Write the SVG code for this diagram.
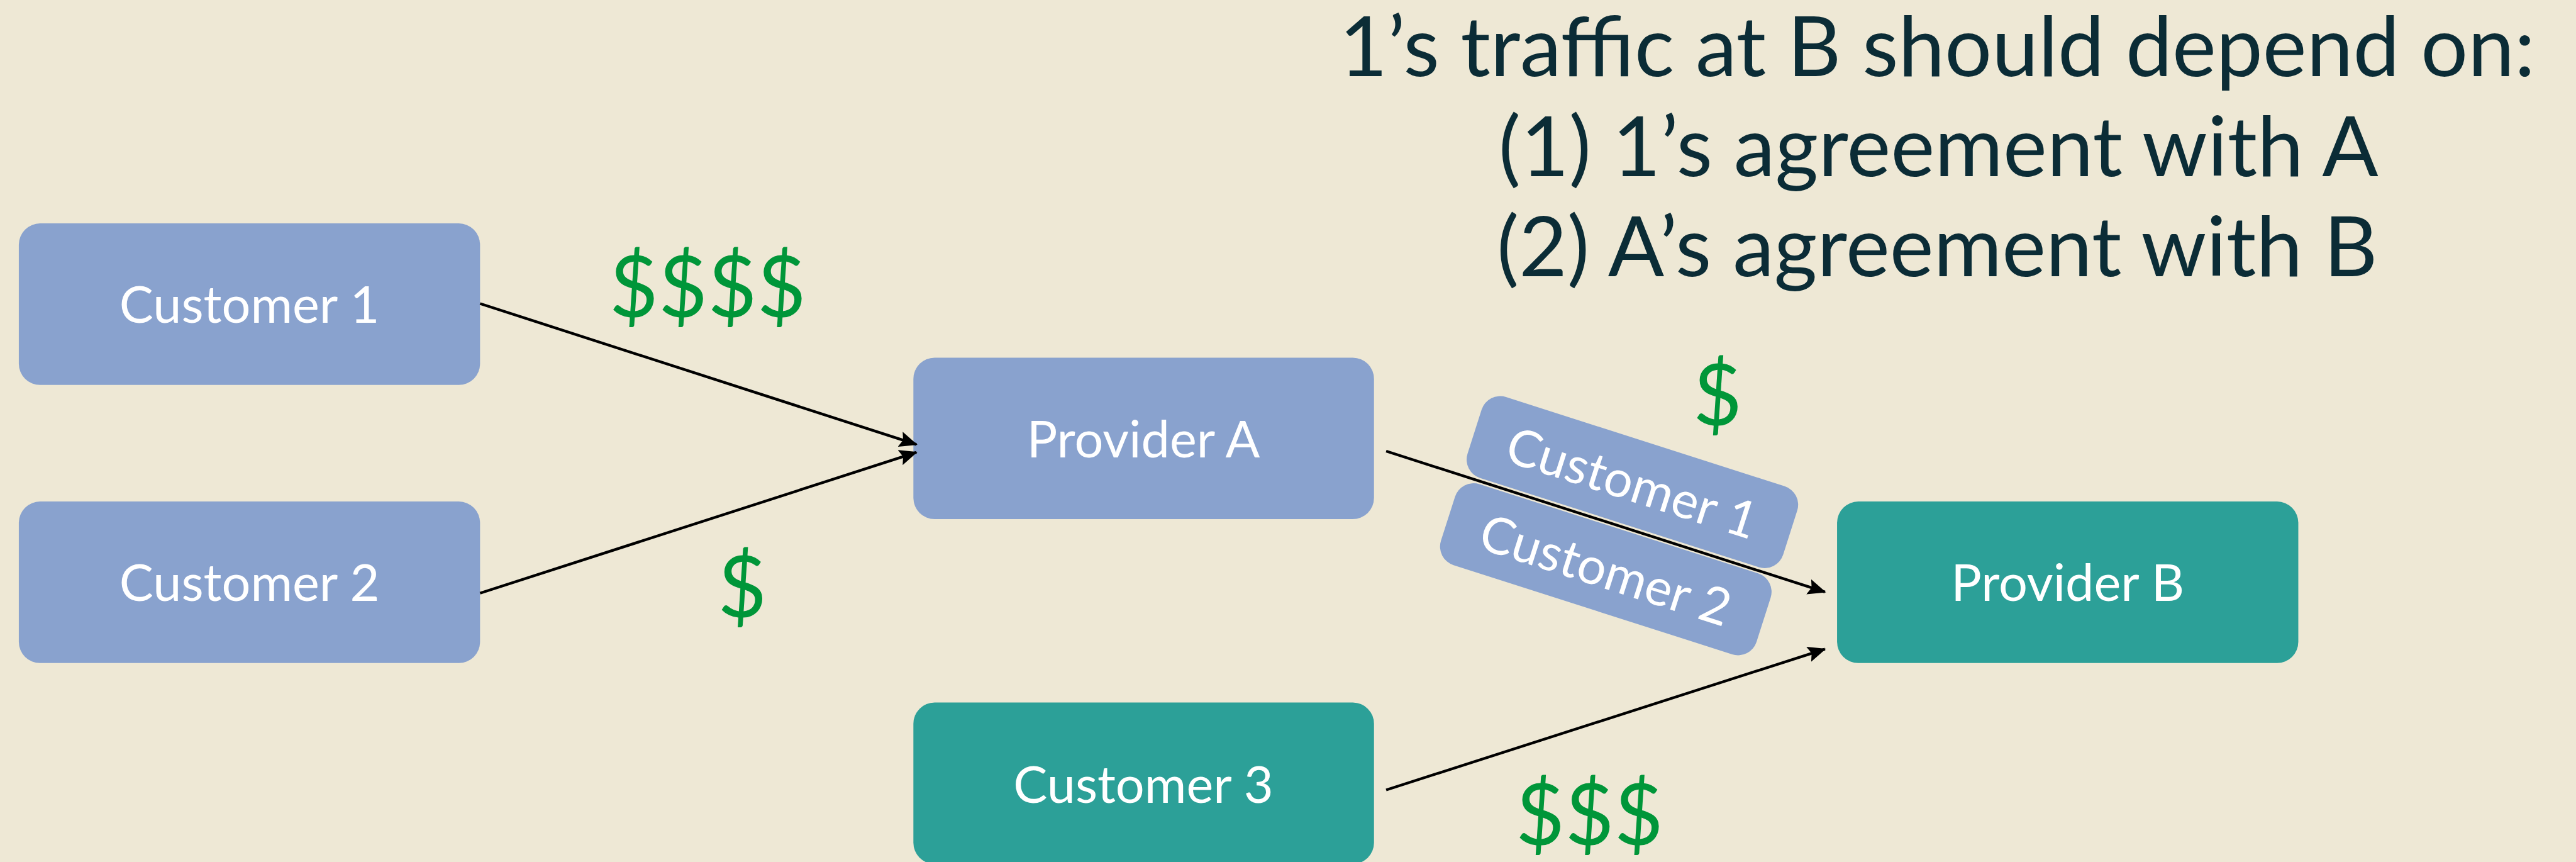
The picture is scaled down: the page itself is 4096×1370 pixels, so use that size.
<svg xmlns="http://www.w3.org/2000/svg" width="4096" height="1370" viewBox="0 0 4096 1370">
<defs>
<style>
.bg{fill:#eee8d5}
.blue{fill:#89a2ce}
.teal{fill:#2ca098}
.lbl{font-family:Lato,"Noto Sans",sans-serif;font-size:84px;fill:#ffffff;text-anchor:middle}
.title{font-family:Lato,"Noto Sans",sans-serif;font-size:137px;fill:#0b2c36;text-anchor:middle}
.money{font-family:Lato,"Noto Sans",sans-serif;font-size:140px;fill:#009639;text-anchor:middle}
.edge{stroke:#000;stroke-width:4.5;fill:none;marker-end:url(#arr)}
</style>
<marker id="arr" markerUnits="userSpaceOnUse" markerWidth="30" markerHeight="26" viewBox="0 0 30 26" refX="28" refY="13" orient="auto">
<path d="M0,0 L30,13 L0,26 L5,13 Z" fill="#000"/>
</marker>
</defs>
<rect class="bg" x="0" y="0" width="4096" height="1370"/>
<g transform="scale(0.965)">
<g id="title">
<text class="title" x="3192" y="125">1’s traffic at B should depend on:</text>
<text class="title" x="3194" y="290">(1) 1’s agreement with A</text>
<text class="title" x="3192" y="455">(2) A’s agreement with B</text>
</g>
<g id="customer1"><rect class="blue" x="31" y="368" width="760" height="266" rx="35"/><text class="lbl" x="411" y="532">Customer 1</text></g>
<g id="customer2"><rect class="blue" x="31" y="826" width="760" height="266" rx="35"/><text class="lbl" x="411" y="990">Customer 2</text></g>
<g id="providerA"><rect class="blue" x="1505" y="589" width="759" height="266" rx="35"/><text class="lbl" x="1884" y="753">Provider A</text></g>
<g id="customer3"><rect class="teal" x="1505" y="1157" width="759" height="266" rx="35"/><text class="lbl" x="1884" y="1322">Customer 3</text></g>
<g id="providerB"><rect class="teal" x="3027" y="826" width="760" height="266" rx="35"/><text class="lbl" x="3407" y="990">Provider B</text></g>
<g id="tag-customer1" transform="translate(2284,743) rotate(17.74)"><rect class="blue" x="129" y="-145" width="546" height="140" rx="32"/><text class="lbl" x="402" y="-44">Customer 1</text></g>
<g id="tag-customer2" transform="translate(2284,743) rotate(17.74)"><rect class="blue" x="131" y="5" width="546" height="140" rx="32"/><text class="lbl" x="404" y="106">Customer 2</text></g>
<g id="connectors">
<line class="edge" x1="791" y1="500" x2="1510" y2="732"/>
<line class="edge" x1="791" y1="977" x2="1510" y2="745"/>
<line class="edge" x1="2284" y1="743" x2="3007" y2="975"/>
<line class="edge" x1="2284" y1="1301" x2="3007" y2="1069"/>
</g>
<g id="money">
<text class="money" x="1166" y="522">$$$$</text>
<text class="money" x="1223" y="1017">$</text>
<text class="money" x="2830" y="700">$</text>
<text class="money" x="2619" y="1392">$$$</text>
</g>
</g>
</svg>
